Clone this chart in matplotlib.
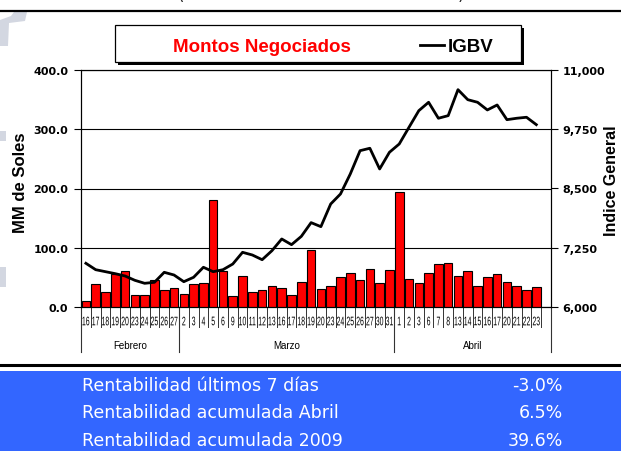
import matplotlib
matplotlib.use('Agg')
import matplotlib.pyplot as plt
import numpy as np
from matplotlib.patches import Rectangle, Polygon, PathPatch
from matplotlib.lines import Line2D
from matplotlib.textpath import TextPath
from matplotlib.font_manager import FontProperties
from matplotlib.transforms import Affine2D, IdentityTransform, blended_transform_factory
from matplotlib.colors import LinearSegmentedColormap

# data
feb_days = ['16', '17', '18', '19', '20', '23', '24', '25', '26', '27']
mar_days = ['2', '3', '4', '5', '6', '9', '10', '11', '12', '13', '16', '17', '18',
            '19', '20', '23', '24', '25', '26', '27', '30', '31']
abr_days = ['1', '2', '3', '6', '7', '8', '13', '14', '15', '16', '17', '20', '21',
            '22', '23']
months = ['Febrero', 'Marzo', 'Abril']

montos_feb = [10, 38, 26, 56, 61, 20, 21, 45, 29, 32]
montos_mar = [22, 38, 41, 180, 61, 18, 52, 25, 29, 35, 31.5, 20, 43, 97, 30, 35,
              50, 58, 45.5, 64, 40, 62]
montos_abr = [194.5, 47, 41, 58, 72, 74, 52, 61, 35, 50, 56, 42, 36, 29, 33]

igbv_feb = [6922, 6787, 6745, 6703, 6654, 6563, 6500, 6521, 6732, 6675]
igbv_mar = [6534, 6627, 6838, 6745, 6787, 6907, 7154, 7097, 6998, 7188, 7435, 7315,
            7490, 7780, 7695, 8173, 8384, 8806, 9298, 9349, 8912, 9264]
igbv_abr = [9439, 9792, 10142, 10319, 9982, 10037, 10585, 10374, 10319, 10157,
            10262, 9952, 9982, 10003, 9847]

rent_labels = ['Rentabilidad últimos 7 días', 'Rentabilidad acumulada Abril',
               'Rentabilidad acumulada 2009']
rent_values = ['-3.0%', '6.5%', '39.6%']

days = feb_days + mar_days + abr_days
montos = montos_feb + montos_mar + montos_abr
igbv = igbv_feb + igbv_mar + igbv_abr
groups = [len(feb_days), len(mar_days), len(abr_days) + 1]  # Abril has a spare slot

W, H = 621, 452
fig = plt.figure(figsize=(W / 100, H / 100), dpi=100)
fig.patch.set_facecolor('white')


def fy(py):
    return 1 - py / H


tickfont = dict(family='DejaVu Sans', weight='bold', size=8)

ax = fig.add_axes([81 / W, fy(308), 470 / W, 237 / H])
x = np.arange(len(days))
ax.bar(x, montos, width=0.88, color='#ff0000', edgecolor='black', linewidth=0.8, zorder=3)
ax.set_xlim(-0.5, len(days) + 0.5)
ax.set_ylim(0, 400)
ax.set_yticks([0, 100, 200, 300, 400])
ax.set_yticklabels(['%.1f' % v for v in [0, 100, 200, 300, 400]], **tickfont)
ax.set_xticks([])
ax.set_axisbelow(True)
ax.yaxis.grid(True, color='black', linewidth=0.8)
ax.tick_params(axis='y', direction='out', length=5, width=0.8, pad=4.3)
for s in ax.spines.values():
    s.set_linewidth(0.8)

ax2 = ax.twinx()
ax2.plot(x, igbv, color='black', linewidth=2, zorder=4, solid_joinstyle='round')
ax2.set_ylim(6000, 11000)
rt = np.arange(6000, 11001, 1250)
ax2.set_yticks(rt)
ax2.set_yticklabels(['{:,}'.format(v) for v in rt], **tickfont)
ax2.tick_params(axis='y', direction='out', length=5, width=0.8, pad=3.4)
for s in ax2.spines.values():
    s.set_linewidth(0.8)

fig.text(21 / W, fy(183), 'MM de Soles', family='Liberation Sans', weight='bold',
         size=12, rotation=90, ha='center', va='center')
fig.text(611 / W, fy(181), 'Indice General', family='Liberation Sans', weight='bold',
         size=11.5, rotation=90, ha='center', va='center')

# category axis: separators, squeezed day labels, month labels
bt = blended_transform_factory(ax.transData, ax.transAxes)
short_y = -20 / 237
long_y = -45 / 237
bounds = np.cumsum([0] + groups) - 0.5
for b in np.arange(-0.5, len(days), 1.0):
    if b not in bounds:
        ax.plot([b, b], [0, short_y], transform=bt, color='#333333', lw=0.7, clip_on=False)
for b in bounds:
    ax.plot([b, b], [0, long_y], transform=bt, color='#333333', lw=0.8, clip_on=False)
for i, m in enumerate(months):
    ax.text((bounds[i] + bounds[i + 1]) / 2, -38 / 237, m, transform=bt, ha='center',
            va='center', family='Liberation Sans', size=7)

prop = FontProperties(family='Liberation Sans')
k = fig.dpi / 72
for i, d in enumerate(days):
    cx, _ = ax.transData.transform((i, 0))
    tp = TextPath((0, 0), d, size=9, prop=prop)
    bb = tp.get_extents()
    tr = Affine2D().translate(-(bb.x0 + bb.x1) / 2, -(bb.y0 + bb.y1) / 2) \
        .scale(k * 0.55, k).translate(cx, H - 322)
    fig.add_artist(PathPatch(tr.transform_path(tp), fc='black', ec='none',
                             transform=IdentityTransform()))

# legend box
fig.add_artist(Rectangle((118 / W, fy(66)), 406 / W, 37 / H, fc='black', ec='none',
                         transform=fig.transFigure))
fig.add_artist(Rectangle((115 / W, fy(63)), 406 / W, 37 / H, fc='white', ec='black',
                         lw=0.9, transform=fig.transFigure))
lax = fig.add_axes([148 / W, fy(52), 22 / W, 11 / H])
cm = LinearSegmentedColormap.from_list('g', ['#3a0000', '#ff0000', '#e00000'])
lax.imshow(np.linspace(0, 1, 50)[None, :], cmap=cm, aspect='auto')
lax.set_xticks([])
lax.set_yticks([])
for s in lax.spines.values():
    s.set_linewidth(0.6)
fig.text(173 / W, fy(52.5), 'Montos Negociados', color='#ff0000', family='Liberation Sans',
         weight='bold', size=13.5, va='baseline')
fig.add_artist(Line2D([420 / W, 444 / W], [fy(46), fy(46)], color='black', lw=2))
fig.text(448 / W, fy(52.5), 'IGBV', color='black', family='Liberation Sans',
         weight='bold', size=13.5, va='baseline')

# page decorations
fig.add_artist(Line2D([0, 1], [fy(12), fy(12)], color='black', lw=1.6))
fig.text(178 / W, fy(4), '(', size=12, va='bottom', color='#222222')
fig.text(458 / W, fy(4), ')', size=12, va='bottom', color='#222222')
gray = '#d3d7e1'
fig.add_artist(Polygon([(0, fy(21)), (11 / W, fy(17)), (14 / W, fy(13)), (27 / W, fy(13)),
                        (25 / W, fy(22)), (9 / W, fy(24)), (8 / W, fy(47)), (0, fy(47))],
                       closed=True, fc=gray, ec='none', transform=fig.transFigure))
fig.add_artist(Rectangle((0, fy(142)), 6 / W, 10 / H, fc=gray, ec='none',
                         transform=fig.transFigure))
fig.add_artist(Rectangle((0, fy(288)), 6 / W, 20 / H, fc=gray, ec='none',
                         transform=fig.transFigure))

# rentabilidad table
fig.add_artist(Line2D([0, 1], [fy(366), fy(366)], color='black', lw=2.2))
fig.add_artist(Rectangle((0, 0), 1, fy(372), fc='#3366ff', ec='none',
                         transform=fig.transFigure))
for j, (lab, val) in enumerate(zip(rent_labels, rent_values)):
    yy = fy(385.7 + 27.5 * j)
    fig.text(82 / W, yy, lab, color='white', family='DejaVu Sans', size=12.5, va='center')
    fig.text(563 / W, yy, val, color='white', family='DejaVu Sans', size=12.5,
             va='center', ha='right')

fig.savefig('out.png', dpi=100)
